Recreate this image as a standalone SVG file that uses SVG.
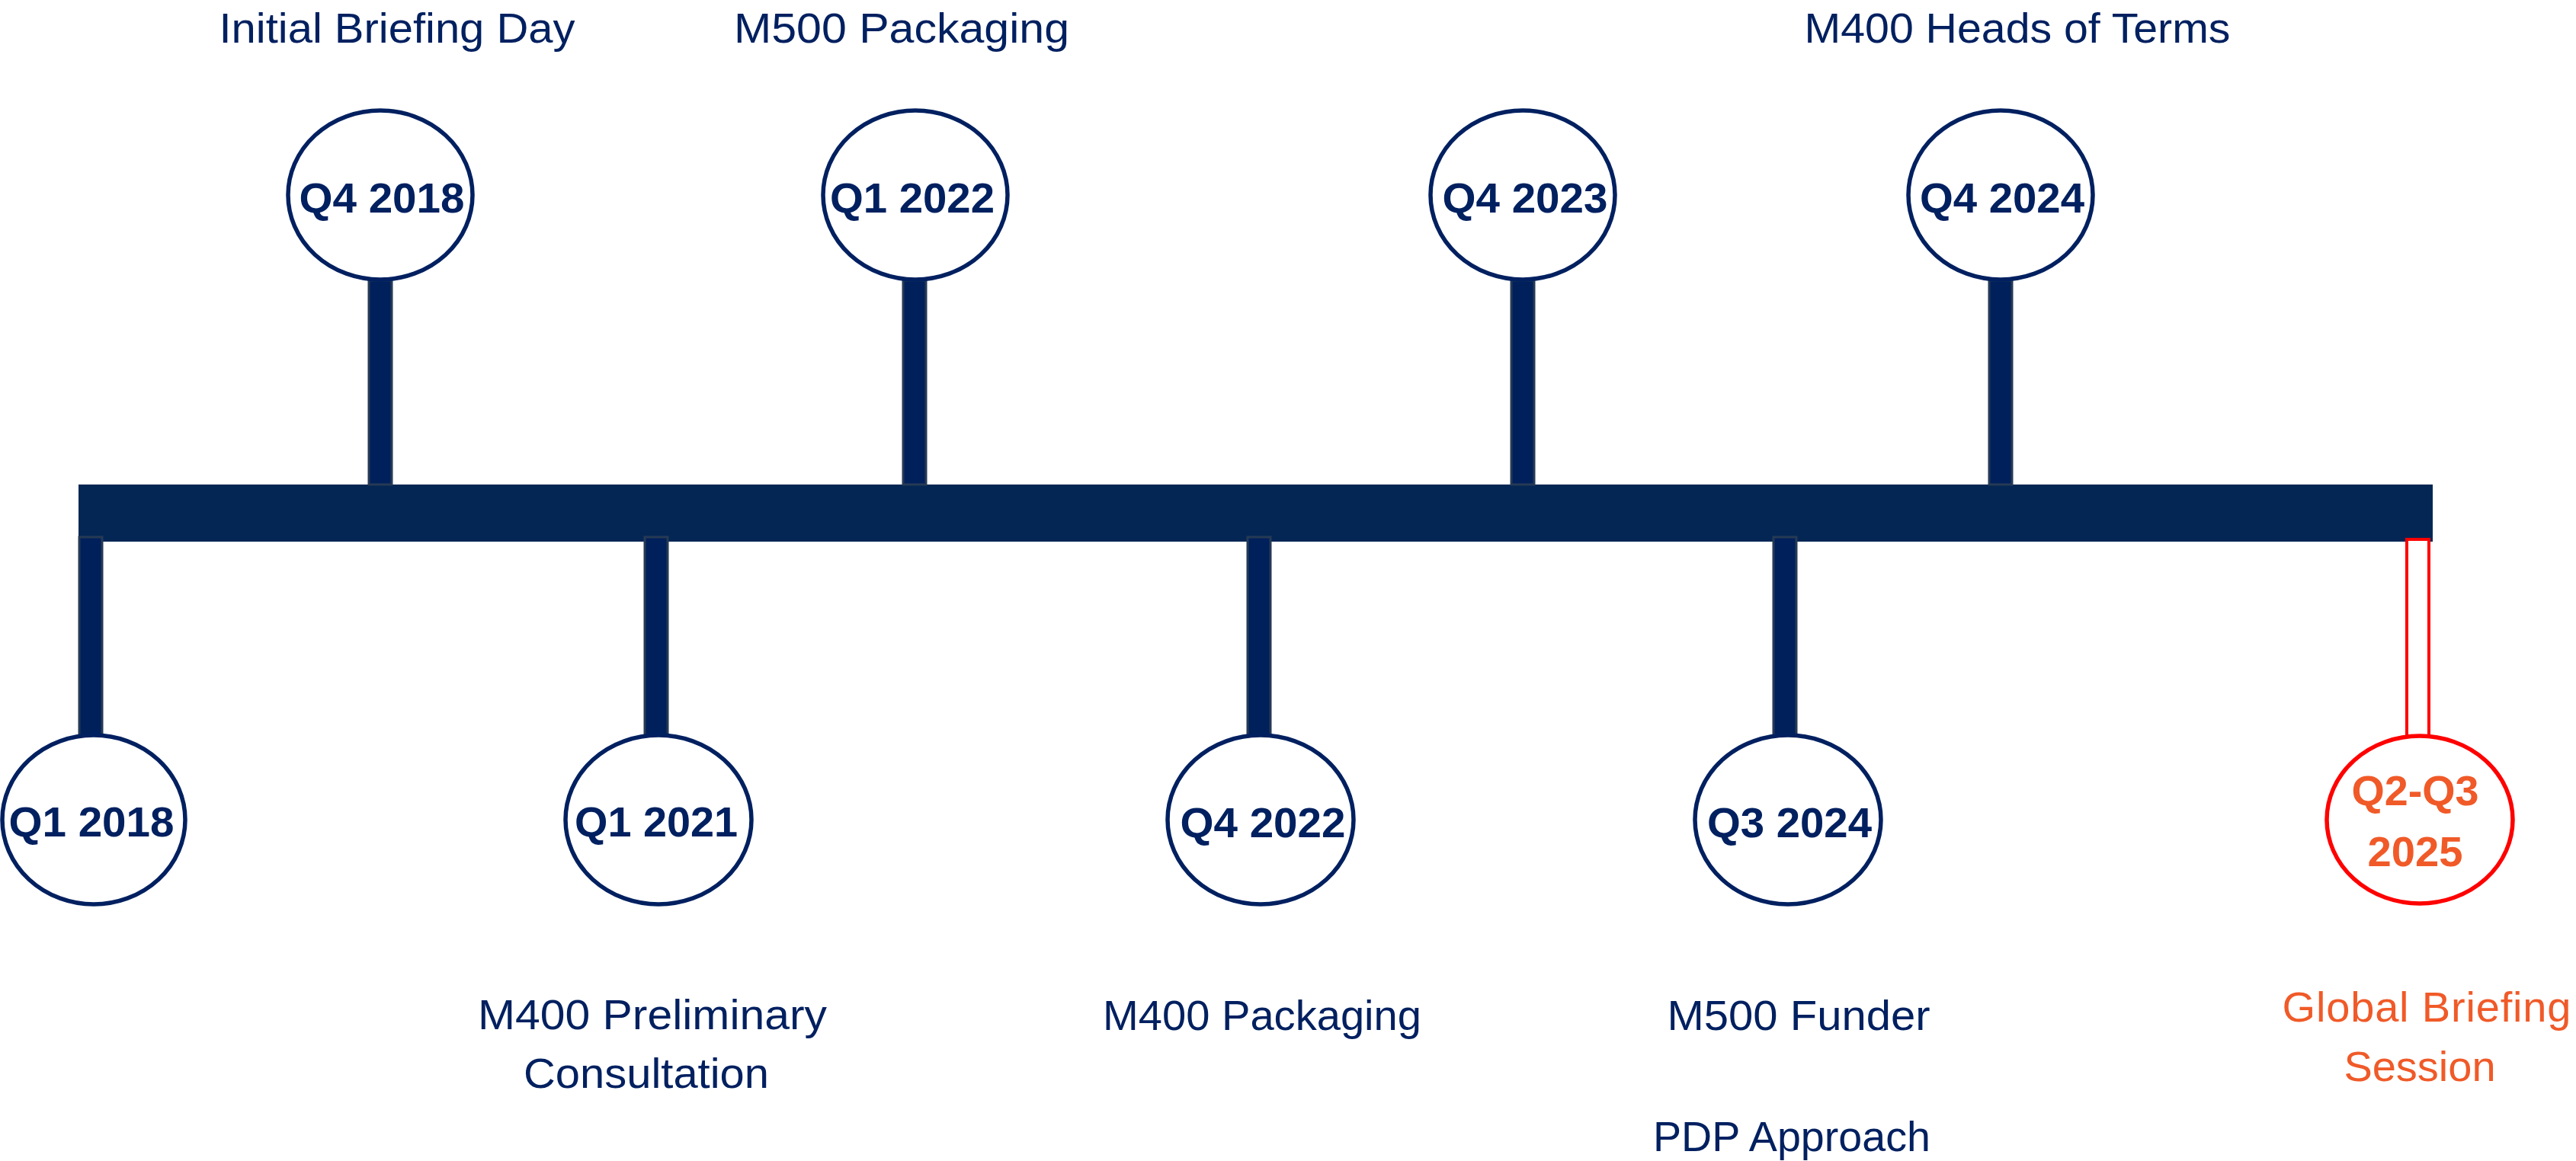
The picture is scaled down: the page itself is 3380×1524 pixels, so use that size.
<svg xmlns="http://www.w3.org/2000/svg" width="3380" height="1524" viewBox="0 0 3380 1524">
<style>
.lbl{font-family:"Liberation Sans",Arial,sans-serif;font-size:56px;fill:#002060;text-anchor:middle}
.q{font-family:"Liberation Sans",Arial,sans-serif;font-size:56px;font-weight:bold;fill:#002060;text-anchor:middle}
.node ellipse{fill:#ffffff;stroke:#002060;stroke-width:5.5}
.stem{fill:#00205B;stroke:#263A55;stroke-width:3}
.red ellipse{fill:#ffffff;stroke:#FF0000;stroke-width:5.5}
.red .stem{fill:#ffffff;stroke:#FF0000;stroke-width:4}
.orange{fill:#F05A28}
</style>
<rect width="3380" height="1524" fill="#ffffff"/>
<g id="connectors">
  <rect id="timeline-bar" x="103" y="636" width="3089" height="75" fill="#042654"/>
</g>
<g id="n-q4-2018" class="node">
  <rect class="stem" x="484" y="368" width="30" height="268"/>
  <ellipse cx="499" cy="256" rx="121" ry="111"/>
  <text class="q" x="501" y="279" textLength="217" lengthAdjust="spacingAndGlyphs">Q4 2018</text>
  <text class="lbl" x="521" y="56" textLength="467" lengthAdjust="spacingAndGlyphs">Initial Briefing Day</text>
</g>
<g id="n-q1-2022" class="node">
  <rect class="stem" x="1185" y="368" width="30" height="268"/>
  <ellipse cx="1201" cy="256" rx="121" ry="111"/>
  <text class="q" x="1197" y="279" textLength="216" lengthAdjust="spacingAndGlyphs">Q1 2022</text>
  <text class="lbl" x="1183" y="56" textLength="440" lengthAdjust="spacingAndGlyphs">M500 Packaging</text>
</g>
<g id="n-q4-2023" class="node">
  <rect class="stem" x="1983" y="368" width="30" height="268"/>
  <ellipse cx="1998" cy="256" rx="121" ry="111"/>
  <text class="q" x="2001" y="279" textLength="217" lengthAdjust="spacingAndGlyphs">Q4 2023</text>
</g>
<g id="n-q4-2024" class="node">
  <rect class="stem" x="2610" y="368" width="30" height="268"/>
  <ellipse cx="2625" cy="256" rx="121" ry="111"/>
  <text class="q" x="2627" y="279" textLength="216" lengthAdjust="spacingAndGlyphs">Q4 2024</text>
  <text class="lbl" x="2647" y="56" textLength="559" lengthAdjust="spacingAndGlyphs">M400 Heads of Terms</text>
</g>
<g id="n-q1-2018" class="node">
  <rect class="stem" x="104" y="705" width="30" height="260"/>
  <ellipse cx="123" cy="1076" rx="120" ry="111"/>
  <text class="q" x="120" y="1098" textLength="217" lengthAdjust="spacingAndGlyphs">Q1 2018</text>
</g>
<g id="n-q1-2021" class="node">
  <rect class="stem" x="846" y="705" width="30" height="260"/>
  <ellipse cx="864" cy="1076" rx="122" ry="111"/>
  <text class="q" x="861" y="1098" textLength="214" lengthAdjust="spacingAndGlyphs">Q1 2021</text>
  <text class="lbl" x="856" y="1351" textLength="458" lengthAdjust="spacingAndGlyphs">M400 Preliminary</text>
  <text class="lbl" x="848" y="1428" textLength="322" lengthAdjust="spacingAndGlyphs">Consultation</text>
</g>
<g id="n-q4-2022" class="node">
  <rect class="stem" x="1637" y="705" width="30" height="260"/>
  <ellipse cx="1654" cy="1076" rx="122" ry="111"/>
  <text class="q" x="1657" y="1099" textLength="217" lengthAdjust="spacingAndGlyphs">Q4 2022</text>
  <text class="lbl" x="1656" y="1352" textLength="418" lengthAdjust="spacingAndGlyphs">M400 Packaging</text>
</g>
<g id="n-q3-2024" class="node">
  <rect class="stem" x="2327" y="705" width="30" height="260"/>
  <ellipse cx="2346" cy="1076" rx="122" ry="111"/>
  <text class="q" x="2348" y="1099" textLength="216" lengthAdjust="spacingAndGlyphs">Q3 2024</text>
  <text class="lbl" x="2360" y="1352" textLength="345" lengthAdjust="spacingAndGlyphs">M500 Funder</text>
  <text class="lbl" x="2351" y="1511" textLength="364" lengthAdjust="spacingAndGlyphs">PDP Approach</text>
</g>
<g id="n-q2q3-2025" class="red">
  <rect class="stem" x="3158" y="708" width="29" height="258"/>
  <ellipse cx="3175" cy="1076" rx="122" ry="110"/>
  <text class="q orange" x="3169" y="1057" textLength="167" lengthAdjust="spacingAndGlyphs">Q2-Q3</text>
  <text class="q orange" x="3169" y="1137" textLength="125" lengthAdjust="spacingAndGlyphs">2025</text>
  <text class="lbl orange" x="3184" y="1341" textLength="379" lengthAdjust="spacing">Global Briefing</text>
  <text class="lbl orange" x="3175" y="1419">Session</text>
</g>
</svg>
